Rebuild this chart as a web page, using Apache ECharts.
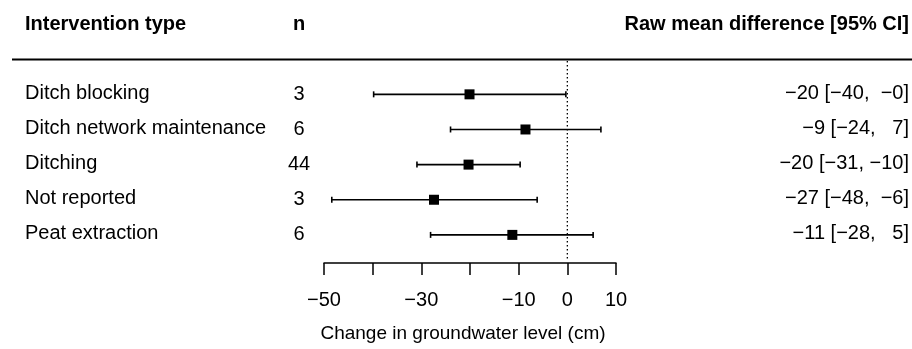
<!DOCTYPE html>
<html><head><meta charset="utf-8">
<script src="https://cdn.jsdelivr.net/npm/echarts@6/dist/echarts.min.js"></script>
<style>html,body{margin:0;padding:0;background:#fff}#c{width:912px;height:349px}</style>
</head><body><div id="c"></div>
<script>
const categories = ['Ditch blocking', 'Ditch network maintenance', 'Ditching', 'Not reported', 'Peat extraction'];
const nStudies = [3, 6, 44, 3, 6];
const estimates = [-20.1, -8.6, -20.3, -27.4, -11.3];
const ciLower = [-39.8, -24.0, -30.9, -48.4, -28.1];
const ciUpper = [-0.3, 6.9, -9.7, -6.2, 5.3];
const xTickLabels = [-50, -30, -10, 0, 10];
const headers = ['Intervention type', 'n', 'Raw mean difference [95% CI]'];
const xTitle = 'Change in groundwater level (cm)';

const FONT = "'Liberation Sans', Arial, sans-serif";
const FS = 20;

function fmt(v) { const r = Math.round(v); return (v < 0 ? '\u2212' : '') + Math.abs(r); }
function pad(s, w) { while (s.length < w) s = ' ' + s; return s; }

const loStr = ciLower.map(fmt), hiStr = ciUpper.map(fmt);
const loW = Math.max(...loStr.map(s => s.length)), hiW = Math.max(...hiStr.map(s => s.length));
const annot = estimates.map((e, i) => fmt(e) + ' [' + pad(loStr[i], loW) + ', ' + pad(hiStr[i], hiW) + ']');

const chart = echarts.init(document.getElementById('c'), null, {renderer: 'canvas'});
const rows = estimates.map((e, i) => [i + 1, e, ciLower[i], ciUpper[i]]);

chart.setOption({
  animation: false,
  grid: {left: 324, right: 296, top: 59.2, bottom: 86},
  xAxis: {
    type: 'value', min: -50, max: 10, interval: 10, position: 'bottom',
    axisLine: {onZero: false, lineStyle: {color: '#000', width: 1.5}},
    axisTick: {length: 12, lineStyle: {color: '#000', width: 1.5}},
    axisLabel: {
      margin: 27, fontSize: FS, fontFamily: FONT, color: '#000',
      formatter: v => xTickLabels.includes(v) ? fmt(v) : ''
    },
    splitLine: {show: false}
  },
  yAxis: {type: 'value', min: 0, max: 5.8, inverse: true, show: false},
  series: [
    {
      type: 'line', data: [[0, 0.05], [0, 5.68]], symbol: 'none', silent: true,
      lineStyle: {color: '#000', width: 1.3, type: [1.5, 2.5]}
    },
    {
      type: 'custom', data: rows, encode: {x: [1, 2, 3], y: 0},
      renderItem: function (params, api) {
        const y = api.value(0);
        const pe = api.coord([api.value(1), y]);
        const pl = api.coord([api.value(2), y]);
        const ph = api.coord([api.value(3), y]);
        const cap = 3, s = 10;
        const st = {stroke: '#000', lineWidth: 1.6};
        return {
          type: 'group', children: [
            {type: 'line', shape: {x1: pl[0], y1: pl[1], x2: ph[0], y2: ph[1]}, style: st},
            {type: 'line', shape: {x1: pl[0], y1: pl[1] - cap, x2: pl[0], y2: pl[1] + cap}, style: st},
            {type: 'line', shape: {x1: ph[0], y1: ph[1] - cap, x2: ph[0], y2: ph[1] + cap}, style: st},
            {type: 'rect', shape: {x: pe[0] - s / 2, y: pe[1] - s / 2, width: s, height: s}, style: {fill: '#000'}}
          ]
        };
      }
    }
  ]
});

const g = [];
const hdrY = 24;
g.push({type: 'text', x: 25, y: hdrY, style: {text: headers[0], font: 'bold ' + FS + 'px ' + FONT, fill: '#000', textAlign: 'left', textVerticalAlign: 'middle'}});
g.push({type: 'text', x: 299, y: hdrY, style: {text: headers[1], font: 'bold ' + FS + 'px ' + FONT, fill: '#000', textAlign: 'center', textVerticalAlign: 'middle'}});
g.push({type: 'text', x: 909, y: hdrY, style: {text: headers[2], font: 'bold ' + FS + 'px ' + FONT, fill: '#000', textAlign: 'right', textVerticalAlign: 'middle'}});
g.push({type: 'line', shape: {x1: 12, y1: 59.5, x2: 912, y2: 59.5}, style: {stroke: '#000', lineWidth: 2}});
categories.forEach((c, i) => {
  const y = chart.convertToPixel({gridIndex: 0}, [0, i + 1])[1] - 1;
  g.push({type: 'text', x: 25, y: y, style: {text: c, font: FS + 'px ' + FONT, fill: '#000', textAlign: 'left', textVerticalAlign: 'middle'}});
  g.push({type: 'text', x: 299, y: y + 1, style: {text: String(nStudies[i]), font: FS + 'px ' + FONT, fill: '#000', textAlign: 'center', textVerticalAlign: 'middle'}});
  g.push({type: 'text', x: 909, y: y, style: {text: annot[i], font: FS + 'px ' + FONT, fill: '#000', textAlign: 'right', textVerticalAlign: 'middle'}});
});
g.push({type: 'text', x: 463, y: 334, style: {text: xTitle, font: '19px ' + FONT, fill: '#000', textAlign: 'center', textVerticalAlign: 'middle'}});
chart.setOption({graphic: g});
</script>
</body></html>
